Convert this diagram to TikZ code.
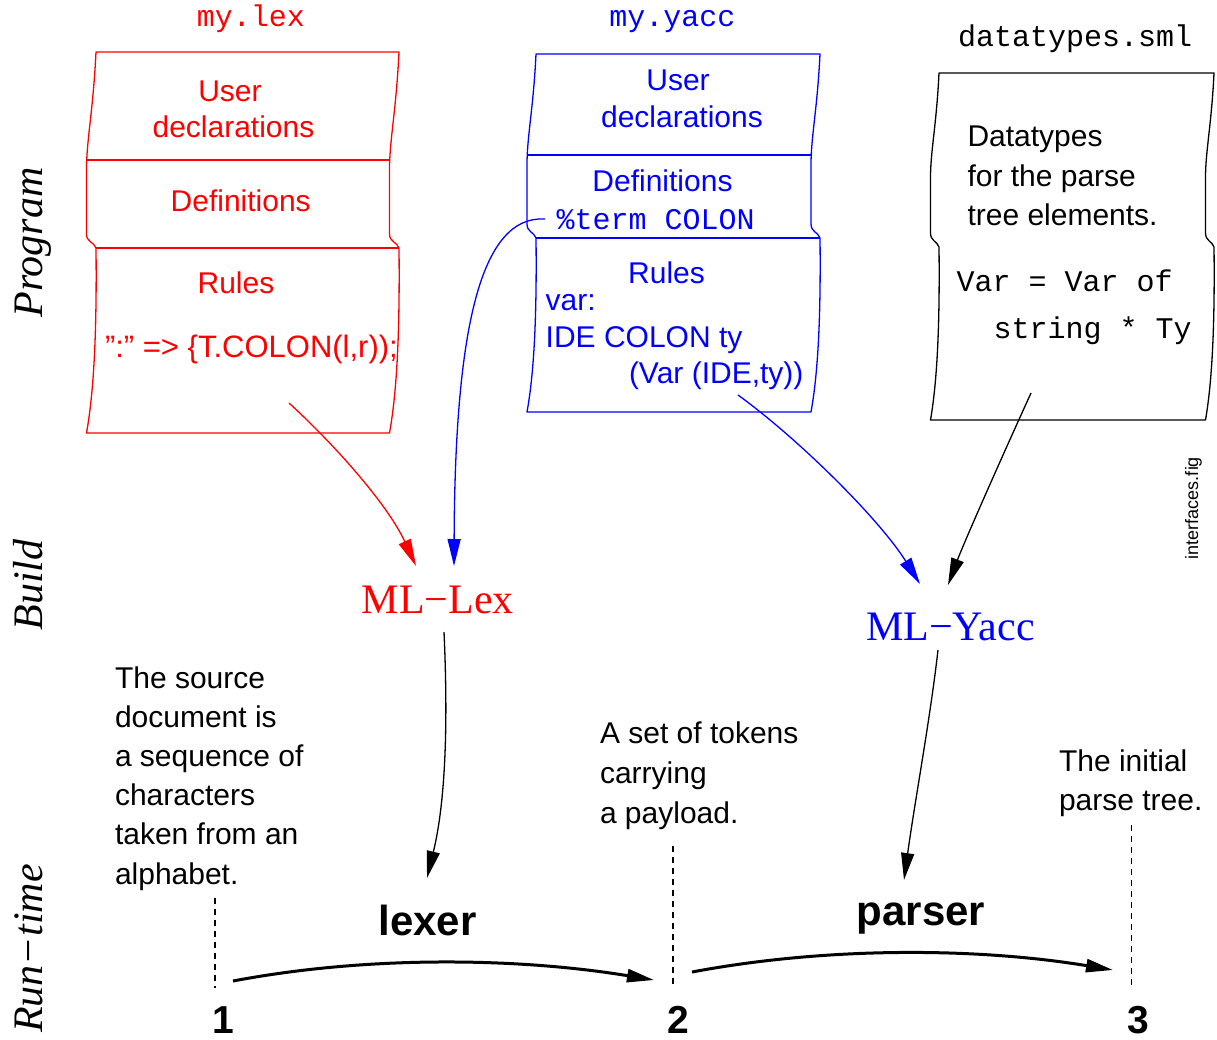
\documentclass[tikz,border=0pt]{standalone}
\usepackage{fontspec}
\setmainfont{Liberation Serif}
\setsansfont{Liberation Sans}
\setmonofont{Liberation Mono}
\usetikzlibrary{arrows.meta}
\definecolor{fred}{RGB}{255,0,0}
\definecolor{fblue}{RGB}{0,0,255}
% #1 colour, #2 L, #3 R, #4 T, #5 K, #6 B, #7 d
\newcommand\docshape[7]{%
  \draw[#1, docline]
    ({#2},{#4}) -- ({#3},{#4})
    .. controls ({#3-0.3*#7},{#4+0.3*(#5-#4)}) and ({#3-#7},{#4+0.45*(#5-#4)}) .. ({#3-#7},{#4+0.6*(#5-#4)})
    -- ({#3-#7},{#5-14})
    .. controls ({#3-#7},{#5-6}) and ({#3-2},{#5-6}) .. ({#3},{#5})
    .. controls ({#3+1},{#5+0.5*(#6-#5)}) and ({#3-0.3*#7},{#6-0.2*(#6-#5)}) .. ({#3-#7},{#6})
    -- ({#2-#7},{#6})
    .. controls ({#2-0.3*#7},{#6-0.2*(#6-#5)}) and ({#2+1},{#5+0.5*(#6-#5)}) .. ({#2},{#5})
    .. controls ({#2-2},{#5-6}) and ({#2-#7},{#5-6}) .. ({#2-#7},{#5-14})
    -- ({#2-#7},{#4+0.6*(#5-#4)})
    .. controls ({#2-#7},{#4+0.45*(#5-#4)}) and ({#2-0.3*#7},{#4+0.3*(#5-#4)}) .. ({#2},{#4})
    -- cycle;}
\tikzset{
  docline/.style={line width=1.3pt, line join=round},
  lbl/.style={inner sep=0pt, outer sep=0pt},
  sfmid/.style={font=\sffamily\fontsize{30}{39.3}\selectfont},
  ttmid/.style={font=\ttfamily\fontsize{30}{36}\selectfont},
  rmbig/.style={font=\rmfamily\fontsize{42}{50}\selectfont},
  itbig/.style={font=\rmfamily\itshape\fontsize{42}{50}\selectfont},
  bfbig/.style={font=\sffamily\bfseries\fontsize{42}{50}\selectfont},
  bfnum/.style={font=\sffamily\bfseries\fontsize{39}{46}\selectfont},
  sfsmall/.style={font=\sffamily\fontsize{18}{22}\selectfont},
  arr/.style={-{Triangle[length=27pt,width=13pt]}, line width=1.3pt},
  bigarr/.style={-{Triangle[length=27pt,width=13pt]}, line width=3pt},
  dashline/.style={line width=1.2pt, dash pattern=on 6pt off 5pt},
}
\begin{document}
\begin{tikzpicture}[x=1pt,y=-1pt]
\useasboundingbox (0,0) rectangle (1217,1039);

% ---------- documents ----------
\docshape{fred}{96}{399}{52}{248}{433}{9.5}
\draw[fred,docline] (86.8,160) -- (389.7,160);
\draw[fred,docline] (96,248) -- (399,248);

\docshape{fblue}{536}{820}{54}{238}{412}{9}
\draw[fblue,docline] (527.2,155) -- (811.2,155);
\draw[fblue,docline] (536,238) -- (820,238);

\docshape{black}{939}{1214}{73}{247}{420}{8.5}

% ---------- red document texts ----------
\node[lbl,ttmid,fred,anchor=base] (rfile) at (251,26.7) {my.lex};
\node[lbl,sfmid,fred,anchor=base] (ruser) at (230,101) {User};
\node[lbl,sfmid,fred,anchor=base] (rdecl) at (233.5,137) {declarations};
\node[lbl,sfmid,fred,anchor=base] (rdef) at (240.7,211) {Definitions};
\node[lbl,sfmid,fred,anchor=base] (rrules) at (236,293) {Rules};
\node[lbl,font=\sffamily\fontsize{31}{38}\selectfont,fred,anchor=base west] (rcode) at (105,357) {":" => \{T.COLON(l,r));};

% ---------- blue document texts ----------
\node[lbl,ttmid,fblue,anchor=base] (bfile) at (672.5,26.7) {my.yacc};
\node[lbl,sfmid,fblue,anchor=base] (buser) at (678,90.7) {User};
\node[lbl,sfmid,fblue,anchor=base] (bdecl) at (682,127.7) {declarations};
\node[lbl,sfmid,fblue,anchor=base] (bdef) at (662.5,191) {Definitions};
\node[lbl,ttmid,fblue,anchor=base west] (bterm) at (556.7,229.3) {\%term COLON};
\node[lbl,sfmid,fblue,anchor=base] (brules) at (666.5,283.3) {Rules};
\node[lbl,sfmid,fblue,anchor=base west] (bvar) at (545.7,310) {var:};
\node[lbl,sfmid,fblue,anchor=base west] (bide) at (545.7,347.7) {IDE COLON ty};
\node[lbl,sfmid,fblue,anchor=base west] (bact) at (629,383.3) {(Var (IDE,ty))};

% ---------- black document texts ----------
\node[lbl,ttmid,anchor=base west] (kfile) at (958,46) {datatypes.sml};
\node[lbl,sfmid,anchor=base west] (kl1) at (967.5,146.7) {Datatypes};
\node[lbl,sfmid,anchor=base west] (kl2) at (967.5,186.2) {for the parse};
\node[lbl,sfmid,anchor=base west] (kl3) at (967.5,225.7) {tree elements.};
\node[lbl,ttmid,anchor=base west] (kc1) at (956.5,291.7) {Var = Var of};
\node[lbl,ttmid,anchor=base west] (kc2) at (993.5,338.3) {string * Ty};

% ---------- side labels ----------
\node[lbl,itbig,rotate=90,anchor=base] (lprog) at (42,242.5) {Program};
\node[lbl,itbig,rotate=90,anchor=base] (lbuild) at (42,585) {Build};
\node[lbl,itbig,rotate=90,anchor=base] (lrun) at (42,948.5) {Run−time};
\node[lbl,sfsmall,rotate=90,anchor=base] (figname) at (1198,508) {interfaces.fig};

% ---------- tools ----------
\node[lbl,rmbig,fred,anchor=base west] (mllex) at (361.7,613.3) {ML−Lex};
\node[lbl,rmbig,fblue,anchor=base west] (mlyacc) at (866,640) {ML−Yacc};

% ---------- descriptions (base = last line) ----------
\node[lbl,font=\sffamily\fontsize{30}{39.2}\selectfont,align=left,anchor=base west] (desc1) at (115,884)
  {The source\\document is\\a sequence of\\characters\\taken from an\\alphabet.};
\node[lbl,font=\sffamily\fontsize{30}{40}\selectfont,align=left,anchor=base west] (desc2) at (600,823)
  {A set of tokens\\carrying\\a payload.};
\node[lbl,font=\sffamily\fontsize{30}{39}\selectfont,align=left,anchor=base west] (desc3) at (1059,810)
  {The initial\\parse tree.};

% ---------- run-time ----------
\node[lbl,bfbig,anchor=base] (lexer) at (427.5,935) {lexer};
\node[lbl,bfbig,anchor=base] (parser) at (921,925) {parser};
\node[lbl,bfnum,anchor=base] (n1) at (223,1033) {1};
\node[lbl,bfnum,anchor=base] (n2) at (678,1033) {2};
\node[lbl,bfnum,anchor=base] (n3) at (1138,1033) {3};

\coordinate (d1t) at (215,898);  \coordinate (d1b) at (215,988);
\coordinate (d2t) at (673,846);  \coordinate (d2b) at (673,988);
\coordinate (d3t) at (1131.5,825); \coordinate (d3b) at (1131.5,988);
\draw[dashline] (d1t) -- (d1b);
\draw[dashline] (d2t) -- (d2b);
\draw[dashline] (d3t) -- (d3b);

% ---------- arrow endpoints ----------
\coordinate (redS) at (289,403);   \coordinate (redE) at (416,566);
\coordinate (termS) at (545,219);  \coordinate (termE) at (454,566);
\coordinate (ruleS) at (738,395);  \coordinate (ruleE) at (920,584);
\coordinate (dtS) at (1031,393);   \coordinate (dtE) at (948,585);
\coordinate (lexS) at (444,632);   \coordinate (lexE) at (427,878);
\coordinate (yacS) at (938,650);   \coordinate (yacE) at (904,880);
\coordinate (r1) at (233,981);     \coordinate (r2) at (654,980);
\coordinate (r3) at (692,972);     \coordinate (r4) at (1113,970);

\draw[arr,fred] (redS) .. controls (335,445) and (388,505) .. (redE);
\draw[arr,fblue] (termS) .. controls (480,215) and (455,330) .. (termE);
\draw[arr,fblue] (ruleS) .. controls (800,440) and (880,520) .. (ruleE);
\draw[arr] (dtS) .. controls (1005,450) and (965,540) .. (dtE);
\draw[arr] (lexS) .. controls (448,720) and (446,800) .. (lexE);
\draw[arr] (yacS) .. controls (930,720) and (915,800) .. (yacE);
\draw[bigarr] (r1) .. controls (370,955) and (520,958) .. (r2);
\draw[bigarr] (r3) .. controls (830,946) and (980,948) .. (r4);
\end{tikzpicture}
\end{document}
